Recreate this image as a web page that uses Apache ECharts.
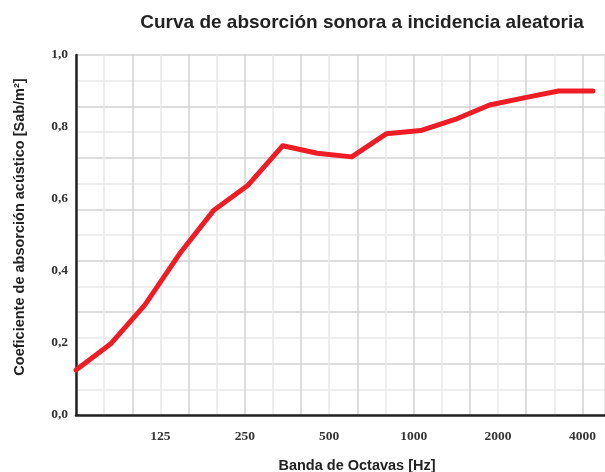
<!DOCTYPE html>
<html>
<head>
<meta charset="utf-8">
<script src="https://cdn.jsdelivr.net/npm/echarts@6/dist/echarts.min.js"></script>
<style>
  html, body { margin: 0; padding: 0; background: #fff; }
  #grafico { width: 605px; height: 472px; }
</style>
</head>
<body>
<div id="grafico"></div>
<script>
// bandas de tercio de octava de la rejilla de fondo
var bandas = ["63", "80", "100", "125", "160", "200", "250", "315", "400", "500",
  "630", "800", "1000", "1250", "1600", "2000", "2500", "3150", "4000"];
var etiquetasX = ["125", "250", "500", "1000", "2000", "4000"];
// coeficiente medido en cada una de las 16 bandas
var coeficientes = [0.125, 0.197, 0.306, 0.447, 0.569, 0.639, 0.748, 0.727,
  0.717, 0.781, 0.79, 0.821, 0.861, 0.881, 0.9, 0.9];
var etiquetasY = [0, 0.2, 0.4, 0.6, 0.8, 1.0];

var puntos = coeficientes.map(function (v, i) {
  return [i, v];
});

var chart = echarts.init(document.getElementById("grafico"));

var option = {
  animation: false,
  title: {
    text: "Curva de absorción sonora a incidencia aleatoria",
    left: 357,
    top: 8,
    textAlign: "center",
    textStyle: {
      fontFamily: "Liberation Sans",
      fontSize: 19,
      fontWeight: "bold",
      color: "#222",
    },
  },
  grid: {
    left: 76,
    right: 0,
    top: 55,
    bottom: 57,
    outerBoundsMode: "none",
    containLabel: false,
  },
  xAxis: [
    {
      type: "value",
      min: 0,
      max: 15.35,
      show: false,
    },
    {
      type: "value",
      min: 0,
      max: 18.8,
      interval: 1,
      position: "bottom",
      name: "Banda de Octavas [Hz]",
      nameLocation: "middle",
      nameGap: 43,
      nameTextStyle: {
        fontFamily: "Liberation Sans",
        fontSize: 14.5,
        fontWeight: "bold",
        color: "#222",
        padding: [0, 0, 0, 33],
      },
      axisLine: {
        lineStyle: { color: "#222", width: 2.5 },
      },
      axisTick: { show: false },
      axisLabel: {
        margin: 15,
        fontFamily: "Liberation Serif",
        fontSize: 13.5,
        fontWeight: "bold",
        color: "#333",
        showMaxLabel: false,
        formatter: function (v) {
          var b = bandas[v];
          return etiquetasX.indexOf(b) >= 0 ? b : "";
        },
      },
      splitLine: {
        show: true,
        lineStyle: { color: ["#d2d2d2", "#e8e8e8"], width: 1.5 },
      },
    },
  ],
  yAxis: [
    {
      type: "value",
      min: 0,
      max: 1,
      interval: 0.2,
      name: "Coeficiente de absorción acústico [Sab/m²]",
      nameLocation: "middle",
      nameGap: 49,
      nameTextStyle: {
        fontFamily: "Liberation Sans",
        fontSize: 14.5,
        fontWeight: "bold",
        color: "#222",
        padding: [0, 0, 0, 16],
      },
      axisLine: {
        show: true,
        lineStyle: { color: "#222", width: 2.5 },
      },
      axisTick: { show: false },
      splitLine: { show: false },
      axisLabel: {
        margin: 8,
        fontFamily: "Liberation Serif",
        fontSize: 13.5,
        fontWeight: "bold",
        color: "#333",
        formatter: function (v) {
          return etiquetasY.indexOf(v) >= 0 ? v.toFixed(1).replace(".", ",") : "";
        },
      },
    },
    {
      type: "value",
      min: 0,
      max: 14,
      interval: 1,
      axisLine: { show: false },
      axisTick: { show: false },
      axisLabel: { show: false },
      splitLine: {
        show: true,
        lineStyle: { color: ["#d2d2d2", "#e8e8e8"], width: 1.5 },
      },
    },
  ],
  series: [
    {
      type: "line",
      xAxisIndex: 0,
      yAxisIndex: 0,
      data: puntos,
      showSymbol: false,
      symbol: "none",
      lineStyle: {
        color: "#ee1c25",
        width: 5,
        cap: "round",
        join: "round",
      },
      z: 10,
    },
  ],
};

option && chart.setOption(option);
</script>
</body>
</html>
